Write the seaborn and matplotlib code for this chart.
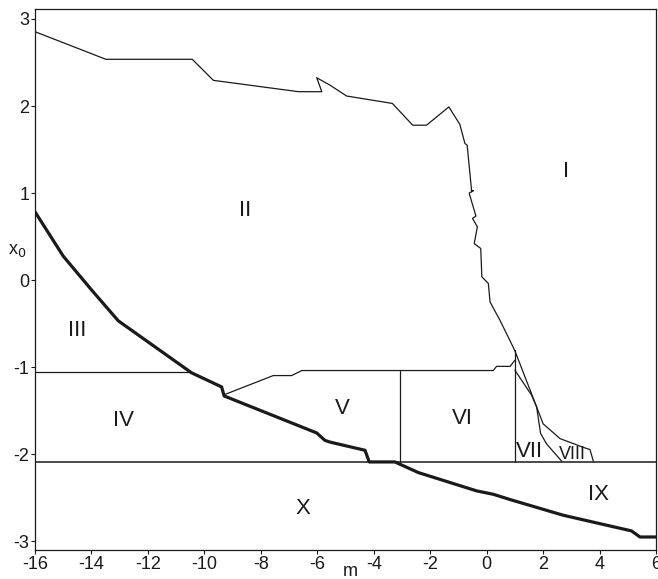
import matplotlib
matplotlib.use("Agg")
import matplotlib.pyplot as plt
import seaborn as sns
import pandas as pd

# I/II boundary (thin), continuing down to VIII
upper_m = [-16, -13.49, -10.43, -9.68, -6.67, -5.84, -6.02, -5.55, -4.96, -3.34, -2.62, -2.13,
           -1.34, -0.95, -0.77, -0.69, -0.53, -0.47, -0.62, -0.38, -0.50, -0.33, -0.44, -0.21,
           -0.17, 0.06, 0.12, 0.47, 0.94, 1.01, 1.62, 2.0, 2.6, 3.42, 3.66, 3.78]
upper_x0 = [2.854, 2.537, 2.537, 2.295, 2.165, 2.165, 2.325, 2.24, 2.115, 2.03, 1.78, 1.78,
            1.99, 1.79, 1.57, 1.55, 1.015, 1.03, 1.0, 0.736, 0.709, 0.613, 0.42, 0.364,
            0.038, -0.038, -0.25, -0.46, -0.77, -0.82, -1.33, -1.65, -1.82, -1.92, -1.946, -2.08]

# VII/VIII boundary
v78_m = [1.0, 1.59, 1.77, 1.91, 2.12, 2.66]
v78_x0 = [-1.034, -1.32, -1.456, -1.76, -1.88, -2.08]

# top of V / VI
top_m = [-9.25, -7.56, -6.91, -6.55, 0.235, 0.35, 0.83, 1.0]
top_x0 = [-1.31, -1.096, -1.096, -1.038, -1.038, -0.99, -0.99, -0.92]

# III/IV horizontal
h34_m = [-16, -10.45]
h34_x0 = [-1.05, -1.05]

# vertical boundaries
v56_m = [-3.07, -3.07]
v56_x0 = [-1.038, -2.085]
v67_m = [1.0, 1.0]
v67_x0 = [-0.80, -2.085]

# horizontal at bottom of IV..VIII
h10_m = [-16, 6]
h10_x0 = [-2.085, -2.085]

# thick boundary
thick_m = [-16, -15.0, -13.99, -13.05, -10.45, -9.39, -9.30, -6.02, -5.73, -5.55, -4.31, -4.16,
           -3.25, -2.42, -0.36, 0.24, 0.83, 2.71, 5.13, 5.43, 6.0]
thick_x0 = [0.785, 0.276, -0.115, -0.467, -1.065, -1.226, -1.33, -1.755, -1.84, -1.86, -1.954, -2.088,
            -2.088, -2.21, -2.42, -2.46, -2.52, -2.70, -2.88, -2.95, -2.95]

region_labels = ["I", "II", "III", "IV", "V", "VI", "VII", "VIII", "IX", "X"]
label_m = [2.8, -8.56, -14.5, -12.85, -5.1, -0.86, 1.53, 3.03, 3.95, -6.5]
label_x0 = [1.245, 0.80, -0.58, -1.61, -1.475, -1.59, -1.97, -2.0, -2.46, -2.62]

x_ticks = [-16, -14, -12, -10, -8, -6, -4, -2, 0, 2, 4, 6]
y_ticks = [-3, -2, -1, 0, 1, 2, 3]

sns.set_style("ticks")
plt.rcParams['font.family'] = ['Liberation Sans', 'DejaVu Sans']

fig = plt.figure(figsize=(6.58, 5.79), dpi=100)
ax = fig.add_axes([0.0532, 0.050, 0.9438, 0.9345])

col = "#1a1a1a"
thin = 0.9
for mm, xx, lw in [(upper_m, upper_x0, thin), (v78_m, v78_x0, thin), (top_m, top_x0, thin),
                   (h34_m, h34_x0, thin), (v56_m, v56_x0, thin), (v67_m, v67_x0, thin),
                   (h10_m, h10_x0, 1.1), (thick_m, thick_x0, 2.3)]:
    df = pd.DataFrame({"m": mm, "x0": xx})
    sns.lineplot(data=df, x="m", y="x0", sort=False, estimator=None, color=col,
                 linewidth=lw, ax=ax)

for lab, mx, yx in zip(region_labels, label_m, label_x0):
    fs = 13 if lab == "VIII" else 16
    ax.text(mx, yx, lab, fontsize=fs, ha="center", va="center", color=col)

ax.set_xlim(-16, 6)
ax.set_ylim(-3.10, 3.115)
ax.set_xticks(x_ticks)
ax.set_yticks(y_ticks)
ax.set_xticklabels([str(t) for t in x_ticks])
ax.set_yticklabels([str(t) for t in y_ticks])
ax.tick_params(axis="both", labelsize=13, length=3, width=0.8, pad=1, colors=col)
ax.set_xlabel("")
ax.set_ylabel("")
for s in ax.spines.values():
    s.set_linewidth(0.9)
    s.set_color(col)

fig.text(17 / 658, 1 - 250 / 579, "x$_0$", fontsize=13, ha="center", va="center", color=col)
fig.text(350 / 658, 1 - 571 / 579, "m", fontsize=13, ha="center", va="center", color=col)

fig.savefig("out.png", dpi=100)
